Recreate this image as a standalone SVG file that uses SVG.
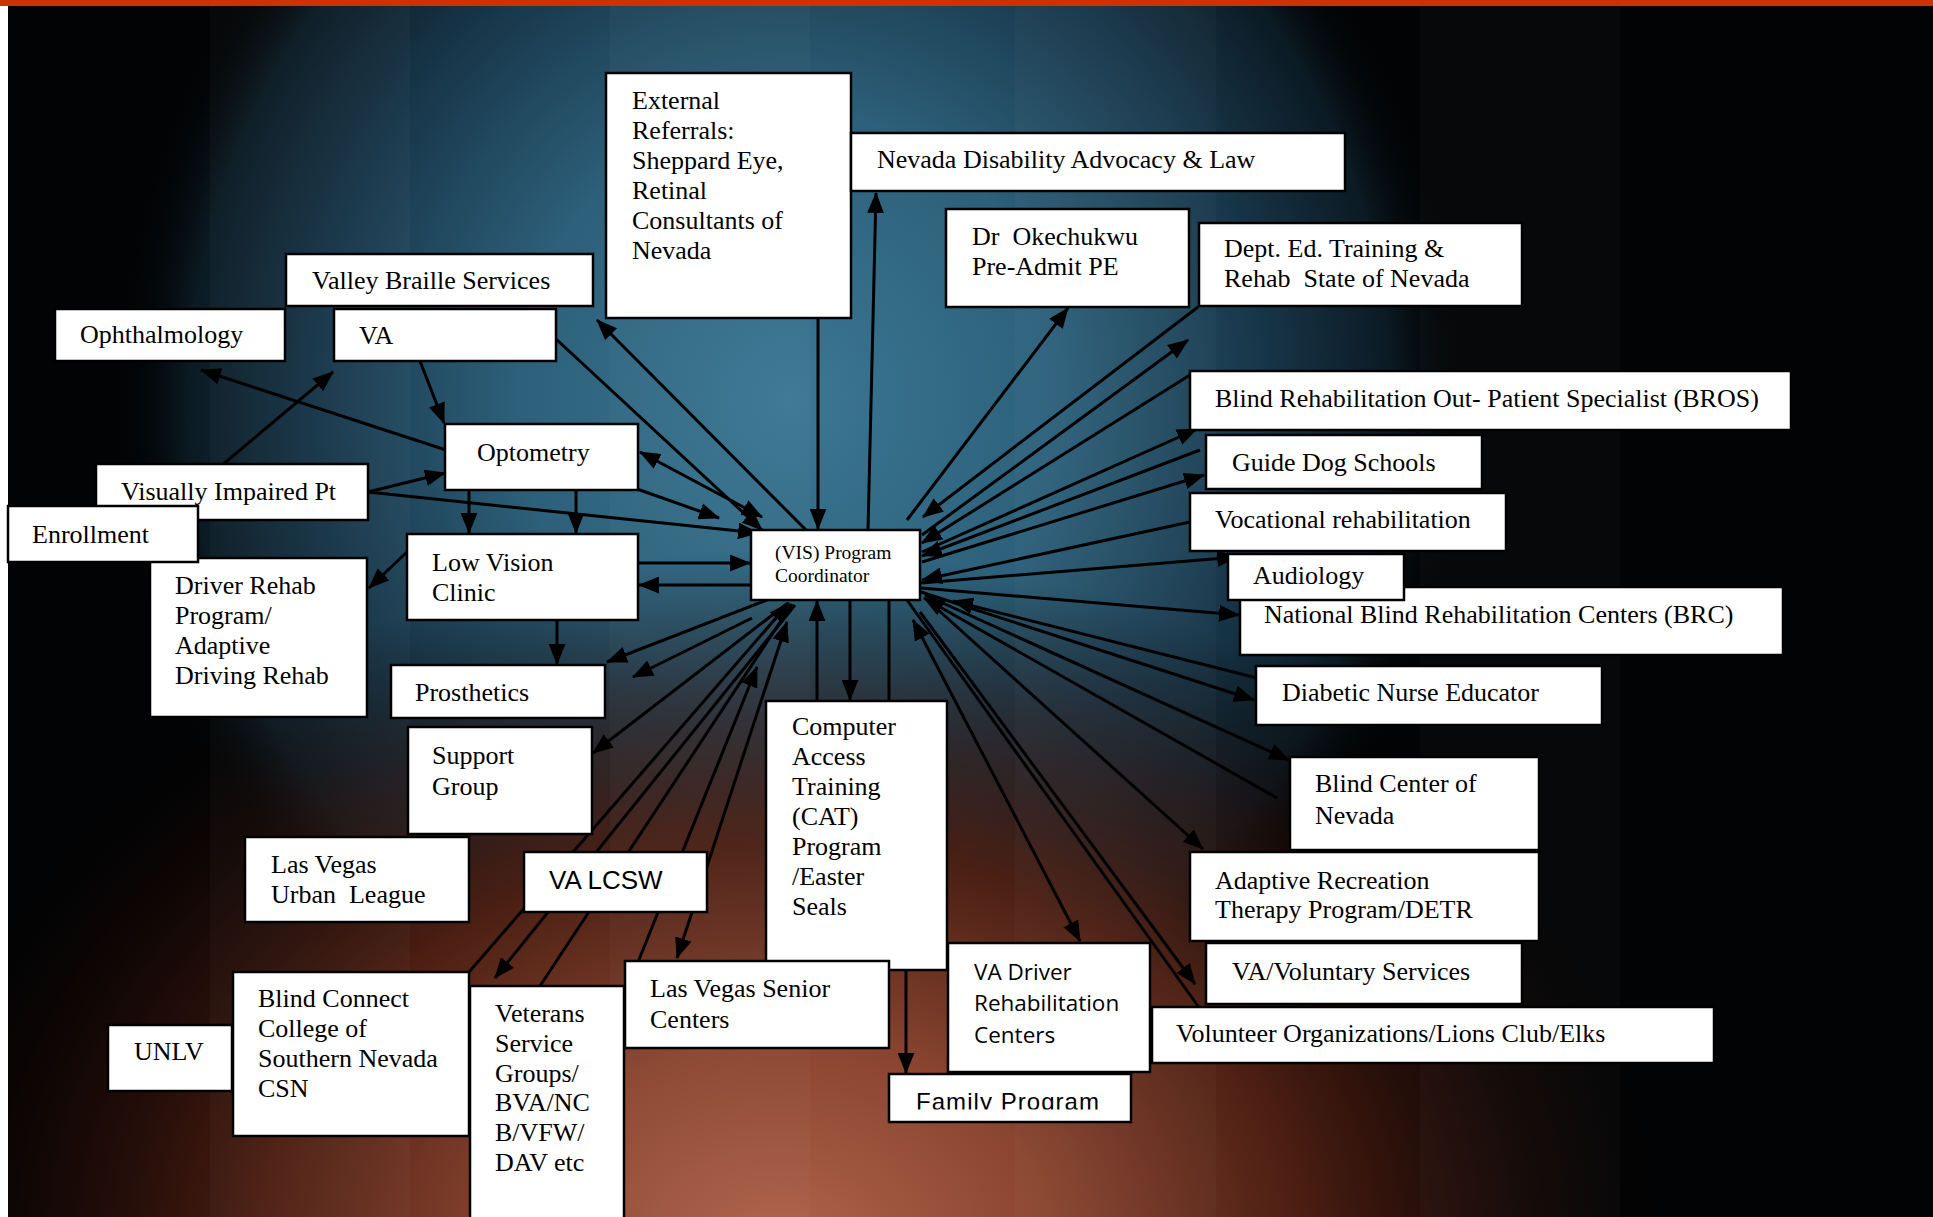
<svg xmlns="http://www.w3.org/2000/svg" width="1933" height="1217" viewBox="0 0 1933 1217">
<style>
.box{fill:#fff;stroke:#000;stroke-width:2.5}
.t{font-family:"Liberation Serif","Times New Roman",serif;font-size:26px;fill:#000;white-space:pre}
.s{font-family:"Liberation Sans",Arial,sans-serif;font-size:26px;fill:#000}
.c{font-family:"Open Sans","Liberation Sans",sans-serif;font-size:22.5px;fill:#000}
.ln{stroke:#000;stroke-width:3;fill:none}
.a{marker-end:url(#ah)}
.b{marker-start:url(#ah);marker-end:url(#ah)}
.band{fill:#fff;fill-opacity:0.025}
</style>
<defs>
<marker id="ah" viewBox="0 0 20 16" refX="19" refY="8" markerWidth="21" markerHeight="17" markerUnits="userSpaceOnUse" orient="auto-start-reverse">
<path d="M0,0 L20,8 L0,16 z" fill="#000"/>
</marker>
<radialGradient id="gBlue" gradientUnits="userSpaceOnUse" cx="790" cy="400" r="720" gradientTransform="translate(790 400) scale(0.95 1) translate(-790 -400)">
<stop offset="0" stop-color="#3b7794"/>
<stop offset="0.4" stop-color="#2d607a"/>
<stop offset="0.7" stop-color="#173548"/>
<stop offset="0.88" stop-color="#0b1a23"/>
<stop offset="1" stop-color="#000" stop-opacity="0"/>
</radialGradient>
<radialGradient id="gBrown" gradientUnits="userSpaceOnUse" cx="780" cy="1250" r="700" gradientTransform="translate(780 1250) scale(1.3 1) translate(-780 -1250)">
<stop offset="0" stop-color="#b0644c"/>
<stop offset="0.3" stop-color="#8a4530"/>
<stop offset="0.58" stop-color="#4e1f12" stop-opacity="0.95"/>
<stop offset="0.8" stop-color="#2a0e08" stop-opacity="0.5"/>
<stop offset="1" stop-color="#000" stop-opacity="0"/>
</radialGradient>
<clipPath id="famClip"><rect x="889" y="1074" width="242" height="35.5"/></clipPath>
</defs>

<g id="background">
<rect x="0" y="0" width="1933" height="1217" fill="#fff"/>
<rect x="8" y="6" width="1925" height="1211" fill="#020304"/>
<rect x="8" y="6" width="1925" height="1211" fill="url(#gBlue)"/>
<rect x="8" y="6" width="1925" height="1211" fill="url(#gBrown)"/>
<rect class="band" x="210" y="6" width="200" height="1211"/>
<rect class="band" x="610" y="6" width="200" height="1211"/>
<rect class="band" x="1015" y="6" width="201" height="1211"/>
<rect class="band" x="1420" y="6" width="200" height="1211"/>
<rect x="0" y="0" width="1933" height="6" fill="#cc3300"/>
</g>

<g id="connectors">
<line class="ln a" x1="420" y1="361" x2="444" y2="423"/>
<line class="ln a" x1="446" y1="450" x2="201" y2="370"/>
<line class="ln a" x1="221" y1="466" x2="333" y2="372"/>
<line class="ln a" x1="368" y1="492" x2="445" y2="473"/>
<line class="ln a" x1="368" y1="492" x2="758" y2="533"/>
<line class="ln a" x1="556" y1="339" x2="762" y2="530"/>
<line class="ln a" x1="806" y1="530" x2="597" y2="320"/>
<line class="ln b" x1="640" y1="452" x2="762" y2="517"/>
<line class="ln a" x1="637" y1="489" x2="719" y2="518"/>
<line class="ln a" x1="469" y1="490" x2="469" y2="533"/>
<line class="ln a" x1="576" y1="490" x2="576" y2="533"/>
<line class="ln a" x1="638" y1="563" x2="750" y2="563"/>
<line class="ln a" x1="751" y1="585" x2="639" y2="585"/>
<line class="ln a" x1="407" y1="552" x2="369" y2="588"/>
<line class="ln a" x1="557" y1="620" x2="557" y2="664"/>
<line class="ln a" x1="767" y1="600" x2="607" y2="662"/>
<line class="ln a" x1="752" y1="618" x2="633" y2="677"/>
<line class="ln a" x1="788" y1="603" x2="593" y2="753"/>
<line class="ln a" x1="469" y1="972" x2="789" y2="603"/>
<line class="ln a" x1="795" y1="605" x2="495" y2="978"/>
<line class="ln" x1="540" y1="986" x2="792" y2="604"/>
<line class="ln a" x1="638" y1="962" x2="757" y2="667"/>
<line class="ln b" x1="677" y1="958" x2="787" y2="622"/>
<line class="ln a" x1="818" y1="318" x2="818" y2="529"/>
<line class="ln a" x1="868" y1="530" x2="876" y2="193"/>
<line class="ln a" x1="817" y1="701" x2="817" y2="601"/>
<line class="ln a" x1="850" y1="600" x2="850" y2="700"/>
<line class="ln" x1="889" y1="600" x2="889" y2="701"/>
<line class="ln a" x1="906" y1="970" x2="906" y2="1073"/>
<line class="ln a" x1="907" y1="520" x2="1068" y2="308"/>
<line class="ln a" x1="1198" y1="307" x2="923" y2="517"/>
<line class="ln a" x1="922" y1="535" x2="1188" y2="340"/>
<line class="ln a" x1="1190" y1="375" x2="922" y2="543"/>
<line class="ln a" x1="922" y1="552" x2="1197" y2="429"/>
<line class="ln a" x1="1200" y1="450" x2="922" y2="556"/>
<line class="ln a" x1="922" y1="562" x2="1204" y2="475"/>
<line class="ln a" x1="1190" y1="522" x2="922" y2="580"/>
<line class="ln a" x1="921" y1="583" x2="1237" y2="557"/>
<line class="ln a" x1="921" y1="588" x2="1239" y2="615"/>
<line class="ln a" x1="1257" y1="678" x2="953" y2="601"/>
<line class="ln a" x1="921" y1="592" x2="1254" y2="700"/>
<line class="ln a" x1="925" y1="595" x2="1289" y2="760"/>
<line class="ln a" x1="1277" y1="798" x2="924" y2="598"/>
<line class="ln a" x1="925" y1="598" x2="1203" y2="849"/>
<line class="ln b" x1="913" y1="620" x2="1080" y2="941"/>
<line class="ln a" x1="920" y1="612" x2="1195" y2="984"/>
<line class="ln" x1="1198" y1="1006" x2="907" y2="600"/>
</g>

<g id="n-ophthalmology"><rect class="box" x="55" y="309" width="230" height="52"/><text class="t" x="80" y="343">Ophthalmology</text></g>
<g id="n-valley"><rect class="box" x="286" y="254" width="307" height="52"/><text class="t" x="312" y="289">Valley Braille Services</text></g>
<g id="n-va"><rect class="box" x="334" y="309" width="222" height="52"/><text class="t" x="359" y="344">VA</text></g>
<g id="n-extref"><rect class="box" x="606" y="73" width="245" height="245"/><text class="t"><tspan x="632" y="109">External</tspan><tspan x="632" y="139">Referrals:</tspan><tspan x="632" y="169">Sheppard Eye,</tspan><tspan x="632" y="199">Retinal</tspan><tspan x="632" y="229">Consultants of</tspan><tspan x="632" y="259">Nevada</tspan></text></g>
<g id="n-nevada"><rect class="box" x="851" y="133" width="494" height="58"/><text class="t" x="877" y="168">Nevada Disability Advocacy &amp; Law</text></g>
<g id="n-drok"><rect class="box" x="946" y="209" width="243" height="98"/><text class="t"><tspan x="972" y="245">Dr  Okechukwu</tspan><tspan x="972" y="275">Pre-Admit PE</tspan></text></g>
<g id="n-depted"><rect class="box" x="1199" y="223" width="323" height="83"/><text class="t"><tspan x="1224" y="257">Dept. Ed. Training &amp;</tspan><tspan x="1224" y="287">Rehab  State of Nevada</tspan></text></g>
<g id="n-bros"><rect class="box" x="1190" y="371" width="601" height="59"/><text class="t" x="1215" y="407">Blind Rehabilitation Out- Patient Specialist (BROS)</text></g>
<g id="n-guide"><rect class="box" x="1206" y="435" width="276" height="54"/><text class="t" x="1232" y="471">Guide Dog Schools</text></g>
<g id="n-vocational"><rect class="box" x="1190" y="493" width="316" height="58"/><text class="t" x="1215" y="528">Vocational rehabilitation</text></g>
<g id="n-brc"><rect class="box" x="1240" y="587" width="543" height="68"/><text class="t" x="1264" y="623">National Blind Rehabilitation Centers (BRC)</text></g>
<g id="n-audiology"><rect class="box" x="1228" y="554" width="176" height="46"/><text class="t" x="1253" y="584">Audiology</text></g>
<g id="n-diabetic"><rect class="box" x="1256" y="666" width="346" height="59"/><text class="t" x="1282" y="701">Diabetic Nurse Educator</text></g>
<g id="n-blindcenter"><rect class="box" x="1290" y="757" width="249" height="93"/><text class="t"><tspan x="1315" y="792">Blind Center of</tspan><tspan x="1315" y="824">Nevada</tspan></text></g>
<g id="n-adaptive"><rect class="box" x="1190" y="852" width="349" height="89"/><text class="t"><tspan x="1215" y="889">Adaptive Recreation</tspan><tspan x="1215" y="918">Therapy Program/DETR</tspan></text></g>
<g id="n-vavol"><rect class="box" x="1206" y="943" width="316" height="61"/><text class="t" x="1232" y="980">VA/Voluntary Services</text></g>
<g id="n-volunteer"><rect class="box" x="1152" y="1007" width="562" height="56"/><text class="t" x="1176" y="1042">Volunteer Organizations/Lions Club/Elks</text></g>
<g id="n-vis"><rect class="box" x="751" y="530" width="169" height="70"/><text class="t" style="font-size:19.5px"><tspan x="775" y="559">(VIS) Program</tspan><tspan x="775" y="582">Coordinator</tspan></text></g>
<g id="n-computer"><rect class="box" x="766" y="701" width="181" height="269"/><text class="t"><tspan x="792" y="735">Computer</tspan><tspan x="792" y="765">Access</tspan><tspan x="792" y="795">Training</tspan><tspan x="792" y="825">(CAT)</tspan><tspan x="792" y="855">Program</tspan><tspan x="792" y="885">/Easter</tspan><tspan x="792" y="915">Seals</tspan></text></g>
<g id="n-vadriver"><rect class="box" x="948" y="943" width="202" height="129"/><text class="c"><tspan x="974" y="980">VA Driver</tspan><tspan x="974" y="1011">Rehabilitation</tspan><tspan x="974" y="1043">Centers</tspan></text></g>
<g id="n-family"><rect class="box" x="889" y="1074" width="242" height="48"/><text class="s" x="916" y="1109.5" style="font-size:24px" textLength="183" lengthAdjust="spacing" clip-path="url(#famClip)">Family Program</text></g>
<g id="n-lvsenior"><rect class="box" x="625" y="961" width="264" height="87"/><text class="t"><tspan x="650" y="997">Las Vegas Senior</tspan><tspan x="650" y="1028">Centers</tspan></text></g>
<g id="n-valcsw"><rect class="box" x="524" y="852" width="183" height="60"/><text class="s" x="549" y="889">VA LCSW</text></g>
<g id="n-veterans"><rect class="box" x="470" y="986" width="154" height="240"/><text class="t"><tspan x="495" y="1022">Veterans</tspan><tspan x="495" y="1052">Service</tspan><tspan x="495" y="1082">Groups/</tspan><tspan x="495" y="1111">BVA/NC</tspan><tspan x="495" y="1141">B/VFW/</tspan><tspan x="495" y="1171">DAV etc</tspan></text></g>
<g id="n-blindconnect"><rect class="box" x="233" y="972" width="236" height="164"/><text class="t"><tspan x="258" y="1007">Blind Connect</tspan><tspan x="258" y="1037">College of</tspan><tspan x="258" y="1067">Southern Nevada</tspan><tspan x="258" y="1097">CSN</tspan></text></g>
<g id="n-unlv"><rect class="box" x="108" y="1025" width="124" height="66"/><text class="t" x="134" y="1060">UNLV</text></g>
<g id="n-urban"><rect class="box" x="245" y="837" width="224" height="85"/><text class="t"><tspan x="271" y="873">Las Vegas</tspan><tspan x="271" y="903">Urban  League</tspan></text></g>
<g id="n-support"><rect class="box" x="408" y="727" width="184" height="107"/><text class="t"><tspan x="432" y="764">Support</tspan><tspan x="432" y="795">Group</tspan></text></g>
<g id="n-prosthetics"><rect class="box" x="391" y="665" width="214" height="53"/><text class="t" x="415" y="701">Prosthetics</text></g>
<g id="n-driver"><rect class="box" x="150" y="558" width="217" height="159"/><text class="t"><tspan x="175" y="594">Driver Rehab</tspan><tspan x="175" y="624">Program/</tspan><tspan x="175" y="654">Adaptive</tspan><tspan x="175" y="684">Driving Rehab</tspan></text></g>
<g id="n-lowvision"><rect class="box" x="407" y="534" width="231" height="86"/><text class="t"><tspan x="432" y="571">Low Vision</tspan><tspan x="432" y="601">Clinic</tspan></text></g>
<g id="n-vip"><rect class="box" x="96" y="464" width="272" height="56"/><text class="t" x="121" y="500">Visually Impaired Pt</text></g>
<g id="n-enrollment"><rect class="box" x="8" y="506" width="190" height="56"/><text class="t" x="32" y="543">Enrollment</text></g>
<g id="n-optometry"><rect class="box" x="445" y="424" width="193" height="66"/><text class="t" x="477" y="461">Optometry</text></g>
</svg>
